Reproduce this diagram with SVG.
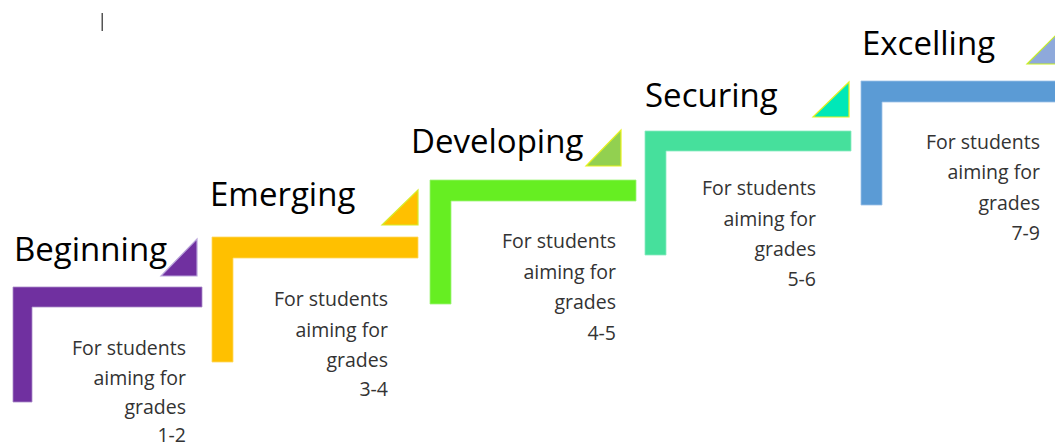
<svg xmlns="http://www.w3.org/2000/svg" width="1055" height="446" viewBox="0 0 1055 446">
<style>
.h{font-family:"Open Sans","Liberation Sans",sans-serif;font-size:33px;fill:#000}
.d{font-family:"Open Sans","Liberation Sans",sans-serif;font-size:19.5px;fill:#333;text-anchor:end}
.tri{stroke-width:1.2;stroke-linejoin:miter}
</style>
<rect width="1055" height="446" fill="#fff"/>
<rect x="101.5" y="13" width="1.5" height="18" fill="#555"/>
<g id="beginning">
<path d="M13,287 H202 V307 H32 V402 H13 Z" fill="#7030A0" stroke="#A98BC8" stroke-width="0.8"/>
<polygon class="tri" points="197,276 197,239 161,276" fill="#7030A0" stroke="#B9A3DB"/>
<text class="h" x="14" y="261">Beginning</text>
<text class="d"><tspan x="186" y="355">For students</tspan><tspan x="186" y="385">aiming for</tspan><tspan x="186" y="414">grades</tspan><tspan x="186" y="442">1-2</tspan></text>
</g>
<g id="emerging">
<path d="M212,237 H418 V258 H233 V362 H212 Z" fill="#FFC000" stroke="#FFD860" stroke-width="0.8"/>
<polygon class="tri" points="418,225 418,190 382,225" fill="#FFC000" stroke="#D6EC2A"/>
<text class="h" x="210" y="206">Emerging</text>
<text class="d"><tspan x="388" y="306">For students</tspan><tspan x="388" y="337">aiming for</tspan><tspan x="388" y="367">grades</tspan><tspan x="388" y="396">3-4</tspan></text>
</g>
<g id="developing">
<path d="M430,180 H636 V201 H451 V304 H430 Z" fill="#66EE22" stroke="#9EF47A" stroke-width="0.8"/>
<polygon class="tri" points="621,166 621,130 586,166" fill="#92D050" stroke="#E6F21E"/>
<text class="h" x="411" y="153">Developing</text>
<text class="d"><tspan x="616" y="248">For students</tspan><tspan x="616" y="279">aiming for</tspan><tspan x="616" y="309">grades</tspan><tspan x="616" y="340">4-5</tspan></text>
</g>
<g id="securing">
<path d="M645,131 H851 V151 H666 V255 H645 Z" fill="#46E09C" stroke="#8CEBC2" stroke-width="0.8"/>
<polygon class="tri" points="849,117 849,82 813,117" fill="#00E8B8" stroke="#E2F21E"/>
<text class="h" x="645" y="107">Securing</text>
<text class="d"><tspan x="816" y="195">For students</tspan><tspan x="816" y="226">aiming for</tspan><tspan x="816" y="256">grades</tspan><tspan x="816" y="286">5-6</tspan></text>
</g>
<g id="excelling">
<path d="M861,81 H1060 V102 H882 V205 H861 Z" fill="#5B9BD5" stroke="#9CC2E8" stroke-width="0.8"/>
<polygon class="tri" points="1063,64 1063,28 1027,64" fill="#8EA9DB" stroke="#C8F020"/>
<text class="h" x="862" y="55">Excelling</text>
<text class="d"><tspan x="1040" y="149">For students</tspan><tspan x="1040" y="179">aiming for</tspan><tspan x="1040" y="210">grades</tspan><tspan x="1040" y="240">7-9</tspan></text>
</g>
<g id="connectors"/>
</svg>
